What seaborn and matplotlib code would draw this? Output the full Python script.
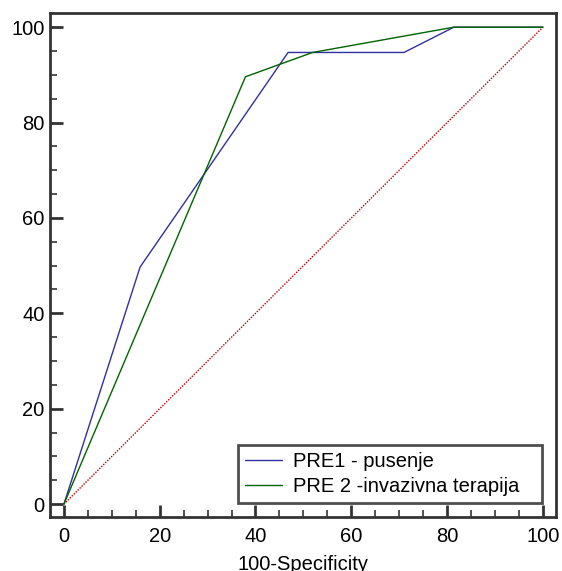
import matplotlib
matplotlib.use("Agg")
import matplotlib.pyplot as plt
import seaborn as sns
import pandas as pd
from matplotlib.ticker import MultipleLocator

# ROC points (100-Specificity, Sensitivity)
pre1_x = [0, 15.9, 46.8, 71.0, 81.4, 100]
pre1_y = [0, 49.7, 94.7, 94.7, 100, 100]
pre2_x = [0, 37.9, 51.9, 81.4, 100]
pre2_y = [0, 89.6, 94.7, 100, 100]
diag_x = [0, 100]
diag_y = [0, 100]
labels = ["PRE1 - pusenje", "PRE 2 -invazivna terapija"]

df = pd.concat([
    pd.DataFrame({"x": pre1_x, "y": pre1_y, "serie": labels[0]}),
    pd.DataFrame({"x": pre2_x, "y": pre2_y, "serie": labels[1]}),
])

sns.set_style("white")
plt.rcParams["font.family"] = ["Liberation Sans", "DejaVu Sans"]
plt.rcParams["text.color"] = "black"
plt.rcParams["axes.labelcolor"] = "black"

fs = 14.5
fig = plt.figure(figsize=(5.62, 5.71), dpi=100)
ax = fig.add_axes([0.089, 0.0946, 0.9, 0.882])

# diagonal reference line
ax.plot(diag_x, diag_y, color="#b80000", linestyle=(0, (1, 1)), linewidth=1.0)

sns.lineplot(data=df, x="x", y="y", hue="serie", sort=False,
             palette=["#3030a0", "#006400"], linewidth=1.0, ax=ax,
             estimator=None)

ax.set_xlim(-2.9, 102.7)
ax.set_ylim(-2.7, 102.9)
ax.xaxis.set_major_locator(MultipleLocator(20))
ax.yaxis.set_major_locator(MultipleLocator(20))
ax.xaxis.set_minor_locator(MultipleLocator(5))
ax.yaxis.set_minor_locator(MultipleLocator(5))
ax.tick_params(which="major", direction="in", length=9, width=2, color="#333333",
               labelsize=fs, labelcolor="black", bottom=True, left=True)
ax.tick_params(which="minor", direction="in", length=5, width=1.2, color="#333333",
               bottom=True, left=True)
ax.tick_params(axis="x", pad=7)
ax.tick_params(axis="y", pad=4)
for s in ax.spines.values():
    s.set_linewidth(2)
    s.set_color("#333333")

ax.set_xlabel("100-Specificity", fontsize=fs, labelpad=7)
ax.set_ylabel("")

# legend box stretched to the width seen in the reference
leg = ax.legend(loc="lower left", bbox_to_anchor=(0.3715, 0.0284, 0.602, 0.1),
                mode="expand", borderaxespad=0, fontsize=fs, frameon=True,
                fancybox=False, edgecolor="#222222", handlelength=1.84,
                borderpad=0.35, labelspacing=0.28, handletextpad=0.55)
leg.get_frame().set_linewidth(2)
leg.set_title(None)

fig.savefig("out.png", dpi=100)
